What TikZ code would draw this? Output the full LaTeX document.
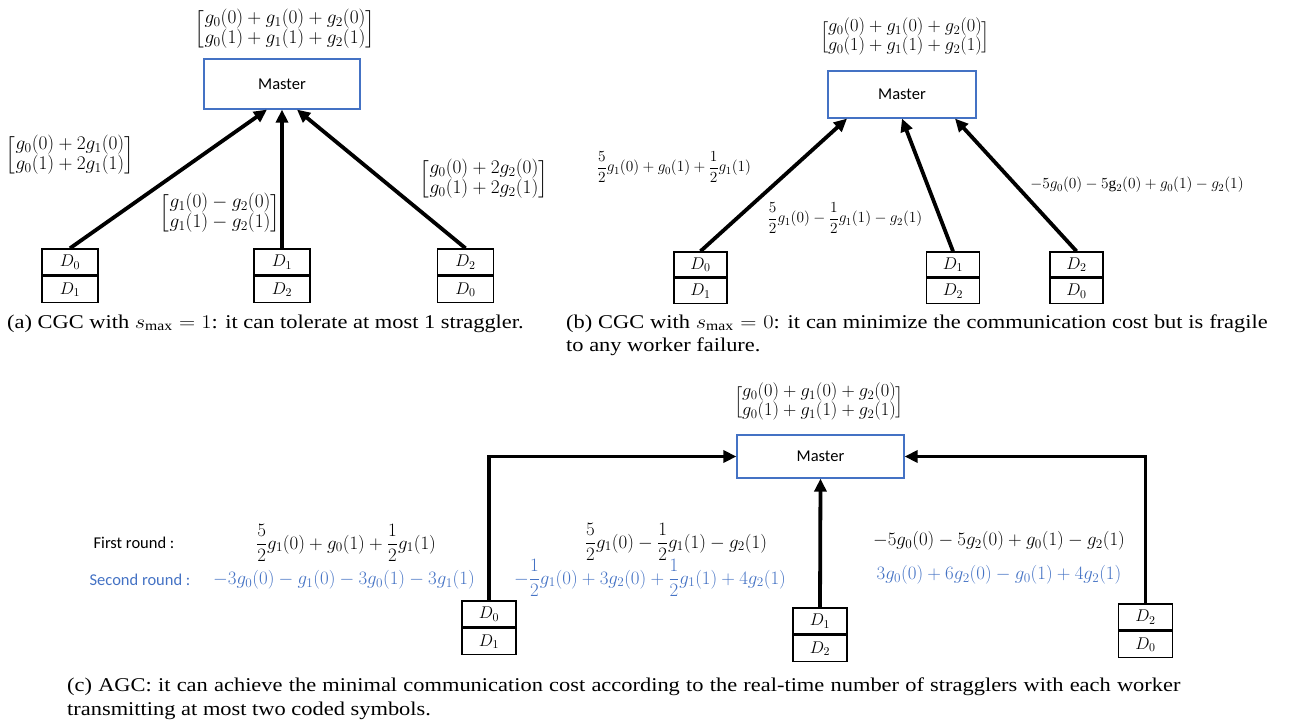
\RequirePackage{fix-cm}
\documentclass[tikz,border=0pt]{standalone}
\usepackage{fontspec}
\setmainfont{Liberation Serif}
\newfontfamily\calibri{Carlito}
\usepackage{amsmath}
\usepackage{graphicx}
\usetikzlibrary{arrows.meta}
\definecolor{offblue}{HTML}{4472C4}
\tikzset{
  master/.style={draw=offblue, line width=1.2pt, inner sep=0pt, font=\calibri\fontsize{16.5}{19}\selectfont},
  dcell/.style={draw=black, line width=1.5pt, inner sep=0pt, font=\fontsize{17}{19}\selectfont},
  arr/.style={line width=3.8pt, -{Triangle[length=13pt,width=12pt]}},
  lbla/.style={inner sep=0pt, font=\fontsize{19.3}{19.3}\selectfont},
  lblt/.style={inner sep=0pt, font=\fontsize{18.4}{19.3}\selectfont},
  lblb/.style={inner sep=0pt, font=\fontsize{15.4}{18}\selectfont},
  lblc/.style={inner sep=0pt, font=\fontsize{18.9}{21}\selectfont},
  sans/.style={inner sep=0pt, font=\calibri\fontsize{16.5}{20}\selectfont},
  captxt/.style={inner sep=0pt, anchor=base west, font=\fontsize{19.5}{23}\selectfont},
}
\newcommand{\capscale}[1]{\scalebox{1.15}[1]{#1}}
\renewcommand\arraystretch{0.93}
\delimiterfactor=800
\delimitershortfall=14pt
\begin{document}
\begin{tikzpicture}[x=1pt,y=-1pt]
\useasboundingbox (0,0) rectangle (1290,723);
% ---------------- (a)
\node[master, minimum width=156pt, minimum height=50pt] (ma) at (282,84) {Master};
\node[lbla] (ta) at (285,29) {$\begin{bmatrix} g_0(0)+g_1(0)+g_2(0)\\ g_0(1)+g_1(1)+g_2(1)\end{bmatrix}$};
\node[dcell, minimum width=56pt, minimum height=26pt] (da0) at (70,262) {$D_0$};
\node[dcell, minimum width=56pt, minimum height=26pt, anchor=north] (da0b) at (da0.south) {$D_1$};
\node[dcell, minimum width=56pt, minimum height=26pt] (da1) at (282,262) {$D_1$};
\node[dcell, minimum width=56pt, minimum height=26pt, anchor=north] (da1b) at (da1.south) {$D_2$};
\node[dcell, minimum width=56pt, minimum height=26pt] (da2) at (465.5,262) {$D_2$};
\node[dcell, minimum width=56pt, minimum height=26pt, anchor=north] (da2b) at (da2.south) {$D_0$};
\draw[arr] (da0.north) -- ([xshift=-15pt]ma.south);
\draw[arr] (da1.north) -- (ma.south);
\draw[arr] (da2.north) -- ([xshift=15pt]ma.south);
\node[lbla] (la0) at (70,155) {$\begin{bmatrix} g_0(0)+2g_1(0)\\ g_0(1)+2g_1(1)\end{bmatrix}$};
\node[lbla] (la1) at (220,213) {$\begin{bmatrix} g_1(0)-g_2(0)\\ g_1(1)-g_2(1)\end{bmatrix}$};
\node[lbla] (la2) at (484,179) {$\begin{bmatrix} g_0(0)+2g_2(0)\\ g_0(1)+2g_2(1)\end{bmatrix}$};
% ---------------- (b)
\node[master, minimum width=148pt, minimum height=47pt] (mb) at (902,94.5) {Master};
\node[lblt] (tb) at (905,37) {$\begin{bmatrix} g_0(0)+g_1(0)+g_2(0)\\ g_0(1)+g_1(1)+g_2(1)\end{bmatrix}$};
\node[dcell, minimum width=53pt, minimum height=25pt] (db0) at (700.5,264.5) {$D_0$};
\node[dcell, minimum width=53pt, minimum height=25pt, anchor=north] (db0b) at (db0.south) {$D_1$};
\node[dcell, minimum width=53pt, minimum height=25pt] (db1) at (953,264.5) {$D_1$};
\node[dcell, minimum width=53pt, minimum height=25pt, anchor=north] (db1b) at (db1.south) {$D_2$};
\node[dcell, minimum width=53pt, minimum height=25pt] (db2) at (1076.5,264.5) {$D_2$};
\node[dcell, minimum width=53pt, minimum height=25pt, anchor=north] (db2b) at (db2.south) {$D_0$};
\draw[arr] (db0.north) -- ([xshift=-55pt]mb.south);
\draw[arr] (db1.north) -- (mb.south);
\draw[arr] (db2.north) -- ([xshift=53pt]mb.south);
\node[lblb] (lb0) at (674,167) {$\dfrac52 g_1(0)+g_0(1)+\dfrac12 g_1(1)$};
\node[lblb] (lb1) at (845,218) {$\dfrac52 g_1(0)-\dfrac12 g_1(1)-g_2(1)$};
\node[lblb] (lb2) at (1137,185) {$-5g_0(0)-5\mathrm{g}_2(0)+g_0(1)-g_2(1)$};
% ---------------- (c)
\node[master, minimum width=167pt, minimum height=43pt] (mc) at (820.5,456.5) {Master};
\node[lblt] (tc) at (819,402) {$\begin{bmatrix} g_0(0)+g_1(0)+g_2(0)\\ g_0(1)+g_1(1)+g_2(1)\end{bmatrix}$};
\node[dcell, minimum width=54pt, minimum height=26pt] (dc0) at (489,614) {$D_0$};
\node[dcell, minimum width=54pt, minimum height=26pt, anchor=north] (dc0b) at (dc0.south) {$D_1$};
\node[dcell, minimum width=54pt, minimum height=26pt] (dc1) at (820,621) {$D_1$};
\node[dcell, minimum width=54pt, minimum height=26pt, anchor=north] (dc1b) at (dc1.south) {$D_2$};
\node[dcell, minimum width=54pt, minimum height=26pt] (dc2) at (1145.5,617) {$D_2$};
\node[dcell, minimum width=54pt, minimum height=26pt, anchor=north] (dc2b) at (dc2.south) {$D_0$};
\draw[arr] (dc0.north) |- (mc.west);
\draw[arr] (dc1.north) -- (mc.south);
\draw[arr] (dc2.north) |- (mc.east);
\node[sans] (r1) at (134,543) {First round :};
\node[sans, text=offblue] (r2) at (140,580) {Second round :};
\node[lblc] (l1) at (346,543) {$\dfrac52 g_1(0)+g_0(1)+\dfrac12 g_1(1)$};
\node[lblc, text=offblue] (l2) at (344,580) {$-3g_0(0)-g_1(0)-3g_0(1)-3g_1(1)$};
\node[lblc] (m1) at (676,542) {$\dfrac52 g_1(0)-\dfrac12 g_1(1)-g_2(1)$};
\node[lblc, text=offblue] (m2) at (650,578) {$-\dfrac12 g_1(0)+3g_2(0)+\dfrac12 g_1(1)+4g_2(1)$};
\node[lblc] (q1) at (999,541) {$-5g_0(0)-5g_2(0)+g_0(1)-g_2(1)$};
\node[lblc, text=offblue] (q2) at (999,575) {$3g_0(0)+6g_2(0)-g_0(1)+4g_2(1)$};
% ---------------- captions
\node[captxt] (capa) at (7,328) {\capscale{(a) CGC with $s_{\mathrm{max}}=1$: it can tolerate at most 1 straggler.}};
\node[captxt] (capb1) at (566,328) {\capscale{\makebox[610pt][s]{(b) CGC with $s_{\mathrm{max}}=0$: it can minimize the communication cost but is fragile}}};
\node[captxt] (capb2) at (566,351) {\capscale{to any worker failure.}};
\node[captxt] (capc1) at (67,691) {\capscale{\makebox[968pt][s]{(c) AGC: it can achieve the minimal communication cost according to the real-time number of stragglers with each worker}}};
\node[captxt] (capc2) at (67,715) {\capscale{transmitting at most two coded symbols.}};
\end{tikzpicture}
\end{document}
